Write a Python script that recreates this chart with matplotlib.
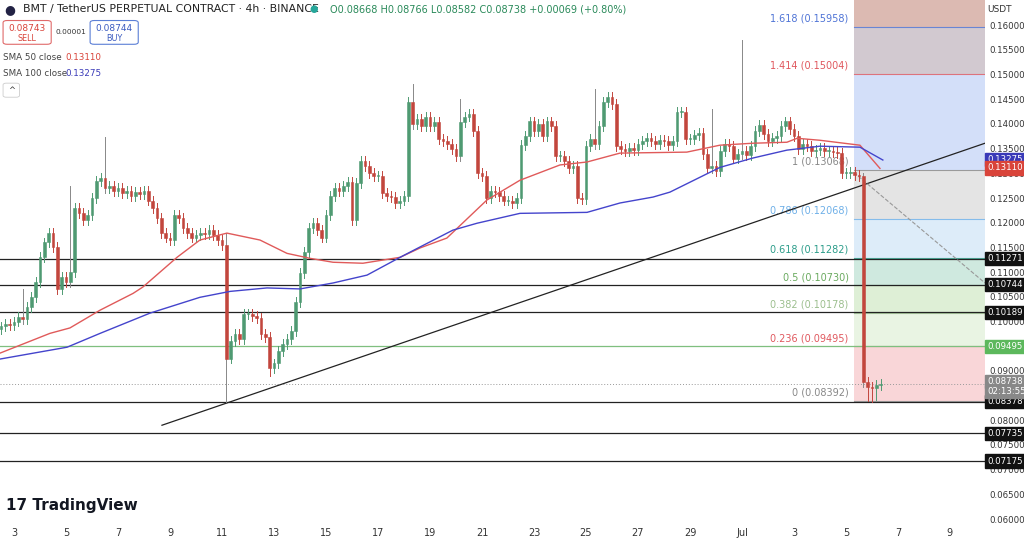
import matplotlib
matplotlib.use("Agg")
import matplotlib.pyplot as plt
from matplotlib.patches import Rectangle, FancyBboxPatch
import numpy as np

# ---------------- data ----------------
start_day = 2.5          # first candle (June 2, 12:00)
closes = [
    0.0990, 0.0995, 0.0992,
    0.1000, 0.1010, 0.1005, 0.1030, 0.1050, 0.1080,
    0.1130, 0.1160, 0.1180, 0.1150, 0.1065, 0.1090,
    0.1080, 0.1100, 0.1230, 0.1220, 0.1205, 0.1215,
    0.1250, 0.1285, 0.1290, 0.1270, 0.1275, 0.1265,
    0.1270, 0.1260, 0.1265, 0.1255, 0.1262, 0.1258,
    0.1265, 0.1245, 0.1230, 0.1210, 0.1180, 0.1170,
    0.1165, 0.1215, 0.1210, 0.1190, 0.1180, 0.1170,
    0.1175, 0.1180, 0.1178, 0.1185, 0.1175, 0.1165,
    0.1155, 0.0925, 0.0960, 0.0975, 0.0965, 0.1015,
    0.1015, 0.1012, 0.1008, 0.0975, 0.0968, 0.0905,
    0.0915, 0.0940, 0.0955, 0.0965, 0.0980, 0.1040,
    0.1098, 0.1140, 0.1190, 0.1200, 0.1185, 0.1170,
    0.1215, 0.1255, 0.1270, 0.1265, 0.1275, 0.1282,
    0.1205, 0.1280, 0.1325, 0.1315, 0.1300, 0.1295,
    0.1295, 0.1260, 0.1255, 0.1252, 0.1240, 0.1245,
    0.1255, 0.1445, 0.1400, 0.1410, 0.1395, 0.1415,
    0.1395, 0.1404, 0.1370, 0.1365, 0.1360, 0.1350,
    0.1335, 0.1404, 0.1415, 0.1420, 0.1385, 0.1300,
    0.1295, 0.1250, 0.1265, 0.1262, 0.1255, 0.1245,
    0.1245, 0.1240, 0.1250, 0.1357, 0.1375, 0.1405,
    0.1385, 0.1400, 0.1375, 0.1405, 0.1395, 0.1335,
    0.1335, 0.1325, 0.1310, 0.1315, 0.1250, 0.1248,
    0.1355, 0.1370, 0.1360, 0.1395, 0.1445, 0.1455,
    0.1440, 0.1355, 0.1350, 0.1345, 0.1352, 0.1348,
    0.1360, 0.1365, 0.1372, 0.1365, 0.1360, 0.1368,
    0.1365, 0.1358, 0.1365, 0.1425, 0.1425, 0.1370,
    0.1370, 0.1378, 0.1382, 0.1340, 0.1310, 0.1315,
    0.1305, 0.1345, 0.1360, 0.1355, 0.1330, 0.1340,
    0.1345, 0.1338, 0.1355, 0.1385, 0.1398, 0.1380,
    0.1365, 0.1372, 0.1375, 0.1395, 0.1405, 0.1390,
    0.1375, 0.1350, 0.1360, 0.1355, 0.1345, 0.1348,
    0.1352, 0.1345, 0.1345, 0.1344, 0.1342, 0.1300,
    0.1300, 0.1302, 0.1296, 0.1295, 0.0877, 0.0868,
    0.0866, 0.0871, 0.08738,
]
first_open = 0.0985
# explicit long wicks: candle index -> high / low
wick_high = {5: 0.1065, 16: 0.1275, 24: 0.1373, 52: 0.1180, 95: 0.1480, 106: 0.1450,
             137: 0.1470, 164: 0.1430, 171: 0.1570, 199: 0.1300}
wick_low = {52: 0.0837, 62: 0.0890, 200: 0.0840, 201: 0.0838, 202: 0.0842}

sma_days50 = [2.46, 4.38, 5.15, 6.31, 7.58, 7.96, 9.27, 10.15, 11.19, 12.46, 13.5, 14.38, 15.27,
              16.42, 17.85, 18.62, 19.65, 21.19, 22.46, 24.0, 25.04, 26.31, 28.88, 30.15, 31.42,
              32.73, 33.12, 34.0, 35.54, 36.31]
sma50 = [0.0936, 0.0976, 0.0987, 0.1023, 0.1057, 0.1070, 0.1130, 0.1165, 0.1179, 0.1165, 0.1138,
         0.1128, 0.1120, 0.1118, 0.1130, 0.1149, 0.1169, 0.1246, 0.1286, 0.1317, 0.1323, 0.1341,
         0.1343, 0.1357, 0.1361, 0.1363, 0.1371, 0.1367, 0.1357, 0.1310]
sma_days100 = [2.46, 5.04, 6.31, 8.23, 10.15, 11.31, 12.73, 14.0, 15.27, 16.58, 17.85, 18.62,
               19.88, 20.81, 22.46, 25.04, 26.31, 27.58, 28.23, 30.15, 31.42, 32.73, 34.0, 35.54, 36.42]
sma100 = [0.0924, 0.0948, 0.0976, 0.1017, 0.1049, 0.1061, 0.1068, 0.1066, 0.1078, 0.1094, 0.1130,
          0.1151, 0.1185, 0.1199, 0.1219, 0.1221, 0.1240, 0.1252, 0.1262, 0.1312, 0.1331,
          0.1347, 0.1355, 0.1353, 0.1327]
support_levels = [0.11271, 0.10744, 0.10189, 0.08378, 0.07735, 0.07175]
fib_ratios = [0, 0.236, 0.382, 0.5, 0.618, 0.786, 1, 1.414, 1.618]
fib_prices = [0.08392, 0.09495, 0.10178, 0.10730, 0.11282, 0.12068, 0.13068, 0.15004, 0.15958]
fib_fill = ['#f9d6d8', '#e9f4e3', '#deefd6', '#cfe9df', '#ddecf9', '#e4e4e4', '#d3dff9', '#d2c9d0', '#dcbab2']
fib_text = ['#888888', '#e0585e', '#9cbf8e', '#6aaa5f', '#2c9d8a', '#6fb0e8', '#888888', '#e0585e', '#4f74d6']
xtick_days = [3, 5, 7, 9, 11, 13, 15, 17, 19, 21, 23, 25, 27, 29, 31, 33, 35, 37, 39]
xtick_labels = ['3', '5', '7', '9', '11', '13', '15', '17', '19', '21', '23', '25', '27', '29', 'Jul', '3', '5', '7', '9']
price_ticks = [0.060, 0.065, 0.070, 0.075, 0.080, 0.085, 0.090, 0.095, 0.100, 0.105, 0.110, 0.115,
               0.120, 0.125, 0.130, 0.135, 0.140, 0.145, 0.150, 0.155, 0.160]

GREEN = '#4f9a72'
RED = '#c2463d'

fig = plt.figure(figsize=(10.24, 5.4), dpi=100)
ax = fig.add_axes([0, 15 / 540, 985 / 1024, 525 / 540])
xmin, xmax = 2.46, 40.35
ymin, ymax = 0.0588, 0.1651
ax.set_xlim(xmin, xmax)
ax.set_ylim(ymin, ymax)

# fib zone
fx0 = 35.3
for i in range(len(fib_prices)):
    lo = fib_prices[i]
    hi = fib_prices[i + 1] if i + 1 < len(fib_prices) else ymax
    ax.add_patch(Rectangle((fx0, lo), xmax - fx0, hi - lo, color=fib_fill[i], lw=0, zorder=0))
    ax.plot([fx0, xmax], [lo, lo], color=fib_text[i], lw=0.8, alpha=0.8, zorder=1)
    ax.text(fx0 - 0.2, lo + 0.0007, f"{fib_ratios[i]:g} ({fib_prices[i]:.5f})",
            ha='right', va='bottom', fontsize=7, color=fib_text[i], zorder=2)

# support lines
for p in support_levels:
    ax.axhline(p, color='#222222', lw=0.9, zorder=2)
ax.axhline(fib_prices[1], color='#7fbf7f', lw=0.9, zorder=2)
ax.axhline(closes[-1], color='#999999', lw=0.7, ls=(0, (1, 2)), zorder=2)

# trendline & dashed projection
ax.plot([8.69, 40.35], [0.0790, 0.1361], color='#222222', lw=0.9, zorder=3)
ax.plot([35.3, 40.35], [0.1302, 0.1078], color='#999999', lw=0.8, ls='--', zorder=3)

# candles
n = len(closes)
days = start_day + np.arange(n) / 6.0
opens = [first_open] + closes[:-1]
w = 0.6 / 6
for i in range(n):
    o, c = opens[i], closes[i]
    col = GREEN if c >= o else RED
    hi = wick_high.get(i, max(o, c) + 0.0010)
    lo = wick_low.get(i, min(o, c) - 0.0010)
    ax.plot([days[i], days[i]], [lo, hi], color=col if i not in wick_high else '#888888', lw=0.7, zorder=4)
    ax.add_patch(Rectangle((days[i] - w / 2, min(o, c)), w, max(abs(c - o), 0.0002),
                           facecolor=col, edgecolor=col, lw=0.4, zorder=5))

# SMAs
ax.plot(sma_days50, sma50, color='#e05a5a', lw=1.0, zorder=6)
ax.plot(sma_days100, sma100, color='#4444cc', lw=1.0, zorder=6)

# axes styling
for s in ax.spines.values():
    s.set_visible(False)
ax.set_xticks(xtick_days)
ax.set_xticklabels(xtick_labels, fontsize=7, color='#333333')
ax.tick_params(axis='x', length=0, pad=2)
ax.yaxis.tick_right()
ax.set_yticks(price_ticks)
ax.set_yticklabels([f"{p:.5f}" for p in price_ticks], fontsize=6.2, color='#333333')
ax.tick_params(axis='y', length=0, pad=3)

# right axis label boxes
def tag(price, text, fc, tc='white'):
    ax.text(1.002, price, text, transform=ax.get_yaxis_transform(), ha='left', va='center',
            fontsize=6.2, color=tc, zorder=10, clip_on=False,
            bbox=dict(boxstyle='square,pad=0.25', fc=fc, ec=fc))

for p in support_levels:
    tag(p, f"{p:.5f}", '#111111')
tag(fib_prices[1], "0.09495", '#5cb85c')
tag(0.13275, "0.13275", '#3a3ab8')
tag(0.13110, "0.13110", '#d9443a')
tag(0.08738 + 0.0005, "0.08738", '#888888')
tag(0.08738 - 0.0015, "02:13:55", '#888888')

# header
fig.text(0.022, 0.983, "BMT / TetherUS PERPETUAL CONTRACT · 4h · BINANCE", fontsize=7.8, color='#222222', va='center')
fig.text(0.004, 0.983, "●", fontsize=9, color='#222244', va='center')
fig.text(0.302, 0.983, "●", fontsize=7, color='#26a69a', va='center')
fig.text(0.322, 0.983, "O0.08668 H0.08766 L0.08582 C0.08738 +0.00069 (+0.80%)", fontsize=7, color='#2a8a5a', va='center')
fig.patches.append(FancyBboxPatch((0.003, 0.918), 0.047, 0.044, boxstyle='round,pad=0,rounding_size=0.004',
                                  transform=fig.transFigure, fc='white', ec='#e06a6a', lw=0.8))
fig.text(0.0265, 0.948, "0.08743", fontsize=6.5, color='#d9443a', ha='center', va='center')
fig.text(0.0265, 0.929, "SELL", fontsize=5.8, color='#d9443a', ha='center', va='center')
fig.text(0.069, 0.940, "0.00001", fontsize=5.3, color='#333333', ha='center', va='center')
fig.patches.append(FancyBboxPatch((0.088, 0.918), 0.047, 0.044, boxstyle='round,pad=0,rounding_size=0.004',
                                  transform=fig.transFigure, fc='white', ec='#5b7fd6', lw=0.8))
fig.text(0.1115, 0.948, "0.08744", fontsize=6.5, color='#3a5bc0', ha='center', va='center')
fig.text(0.1115, 0.929, "BUY", fontsize=5.8, color='#3a5bc0', ha='center', va='center')
fig.text(0.003, 0.893, "SMA 50 close", fontsize=6.3, color='#444444', va='center')
fig.text(0.064, 0.893, "0.13110", fontsize=6.3, color='#d9443a', va='center')
fig.text(0.003, 0.863, "SMA 100 close", fontsize=6.3, color='#444444', va='center')
fig.text(0.064, 0.863, "0.13275", fontsize=6.3, color='#3a3ab8', va='center')
fig.patches.append(FancyBboxPatch((0.003, 0.82), 0.016, 0.026, boxstyle='round,pad=0,rounding_size=0.003',
                                  transform=fig.transFigure, fc='white', ec='#cccccc', lw=0.6))
fig.text(0.011, 0.833, "^", fontsize=6, color='#333333', ha='center', va='center')
fig.text(0.964, 0.983, "USDT", fontsize=6.5, color='#333333', va='center', ha='left')
fig.text(0.006, 0.063, "17 TradingView", fontsize=11, fontweight='bold', color='#131722', va='center')

fig.savefig("out.png", dpi=100)
